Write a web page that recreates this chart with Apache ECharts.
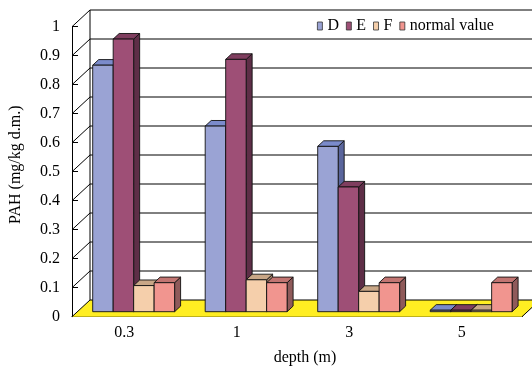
<!DOCTYPE html>
<html>
<head>
<meta charset="utf-8">
<script src="https://cdn.jsdelivr.net/npm/echarts@6/dist/echarts.min.js"></script>
<style>
html,body{margin:0;padding:0;background:#fff;}
#chart{width:532px;height:368px;}
</style>
</head>
<body>
<div id="chart"></div>
<script>
// ---- data ----
const categories = ['0.3', '1', '3', '5'];
const seriesNames = ['D', 'E', 'F', 'normal value'];
const valuesD = [0.85, 0.64, 0.57, 0.005];
const valuesE = [0.94, 0.87, 0.43, 0.005];
const valuesF = [0.09, 0.11, 0.07, 0.005];
const valuesNormal = [0.1, 0.1, 0.1, 0.1];
const yMin = 0, yMax = 1, yStep = 0.1;
const yTickValues = [0, 0.1, 0.2, 0.3, 0.4, 0.5, 0.6, 0.7, 0.8, 0.9, 1];
const yTickLabels = ['0', '0.1', '0.2', '0.3', '0.4', '0.5', '0.6', '0.7', '0.8', '0.9', '1'];

// ---- styles ----
const FONT = "'Liberation Serif', 'Times New Roman', serif";
const DX = 18, DY = -16.7;          // room depth
const BAR_PLANE = 0.3;              // bar front plane fraction of depth
const SX = 6, SY = -5.6;            // bar depth
const BAR_FRAC = 0.182;             // bar width / category width
const palette = [
  {front: '#9AA3D4', top: '#7B8BCB', side: '#5A659C'},
  {front: '#9E4F76', top: '#7F3E5F', side: '#5E2E47'},
  {front: '#F5CFAB', top: '#C9A787', side: '#A8876B'},
  {front: '#F1958F', top: '#C27572', side: '#8F5A5A'}
];
const allValues = [valuesD, valuesE, valuesF, valuesNormal];

function barRenderer(idx) {
  const c = palette[idx];
  return function (params, api) {
    const cat = api.value(0), v = api.value(1);
    const base = api.coord([cat, 0]);
    const top = api.coord([cat, v]);
    const catW = api.size([1, 0])[0];
    const bw = catW * BAR_FRAC;
    const ox = DX * BAR_PLANE, oy = DY * BAR_PLANE;
    const x0 = base[0] + ox + (idx - 2) * bw;
    const yb = base[1] + oy, yt = top[1] + oy;
    const line = {stroke: '#111', lineWidth: 0.9};
    return {
      type: 'group',
      children: [
        {type: 'polygon', shape: {points: [[x0 + bw, yt], [x0 + bw + SX, yt + SY], [x0 + bw + SX, yb + SY], [x0 + bw, yb]]},
         style: Object.assign({fill: c.side}, line)},
        {type: 'polygon', shape: {points: [[x0, yt], [x0 + bw, yt], [x0 + bw + SX, yt + SY], [x0 + SX, yt + SY]]},
         style: Object.assign({fill: c.top}, line)},
        {type: 'rect', shape: {x: x0, y: yt, width: bw, height: yb - yt},
         style: Object.assign({fill: c.front}, line)}
      ]
    };
  };
}

function frameRenderer(params, api) {
  const cs = params.coordSys;
  const left = cs.x, right = cs.x + cs.width;
  const y0 = api.coord([0, yMin])[1];
  const y1 = api.coord([0, yMax])[1];
  const ls = {stroke: '#000', lineWidth: 1};
  const children = [];
  children.push({type: 'polygon', shape: {points: [[left, y0], [right, y0], [right + DX, y0 + DY], [left + DX, y0 + DY]]},
    style: {fill: '#FFEE22', stroke: null}});
  children.push({type: 'line', shape: {x1: right, y1: y0, x2: right + DX, y2: y0 + DY}, style: ls});
  yTickValues.forEach(function (t) {
    const y = api.coord([0, t])[1];
    children.push({type: 'line', shape: {x1: left + DX, y1: y + DY, x2: right + DX + 30, y2: y + DY}, style: ls});
    children.push({type: 'line', shape: {x1: left, y1: y, x2: left + DX, y2: y + DY}, style: ls});
  });
  children.push({type: 'line', shape: {x1: left + DX, y1: y0 + DY, x2: left + DX, y2: y1 + DY}, style: ls});
  return {type: 'group', children: children};
}

const chart = echarts.init(document.getElementById('chart'), null, {renderer: 'canvas'});

const series = [{
  type: 'custom',
  name: '__frame',
  renderItem: frameRenderer,
  data: [[0, 0]],
  clip: false,
  silent: true,
  z: 1,
  encode: {x: 0, y: 1}
}];
seriesNames.forEach(function (name, i) {
  series.push({
    type: 'custom',
    name: name,
    renderItem: barRenderer(i),
    data: allValues[i].map(function (v, k) { return [k, v]; }),
    encode: {x: 0, y: 1},
    clip: false,
    z: 2,
    itemStyle: {color: palette[i].front}
  });
});

chart.setOption({
  animation: false,
  backgroundColor: '#fff',
  grid: {left: 72, right: 10, top: 26.7, bottom: 51.3, containLabel: false, outerBoundsMode: 'none'},
  legend: {
    data: seriesNames,
    left: 317,
    top: 18,
    padding: 0,
    icon: 'rect',
    itemWidth: 5,
    itemHeight: 8,
    itemGap: 7,
    itemStyle: {borderColor: '#333', borderWidth: 0.8},
    textStyle: {fontFamily: FONT, fontSize: 16, color: '#000'}
  },
  xAxis: {
    type: 'category',
    data: categories,
    boundaryGap: true,
    name: 'depth (m)',
    nameLocation: 'middle',
    nameGap: 33,
    nameTextStyle: {fontFamily: FONT, fontSize: 16, color: '#000', padding: [0, 0, 0, 16]},
    axisLine: {show: true, lineStyle: {color: '#000', width: 1}},
    axisTick: {show: true, inside: true, length: 5, lineStyle: {color: '#000'}},
    axisLabel: {fontFamily: FONT, fontSize: 16, color: '#000', margin: 8, padding: [0, 8, 0, 0]},
    splitLine: {show: false}
  },
  yAxis: {
    type: 'value',
    min: yMin,
    max: yMax,
    interval: yStep,
    name: 'PAH (mg/kg d.m.)',
    nameLocation: 'middle',
    nameRotate: 90,
    nameGap: 48,
    nameTextStyle: {fontFamily: FONT, fontSize: 16, color: '#000', padding: [0, 0, 0, 14]},
    axisLine: {show: true, lineStyle: {color: '#000', width: 1}},
    axisTick: {show: true, inside: true, length: 6, lineStyle: {color: '#000'}},
    axisLabel: {fontFamily: FONT, fontSize: 16, color: '#000', margin: 12,
      formatter: function (v) { const i = yTickValues.findIndex(function (t) { return Math.abs(t - v) < 1e-9; }); return i >= 0 ? yTickLabels[i] : ''; }},
    splitLine: {show: false}
  },
  series: series
});
</script>
</body>
</html>
